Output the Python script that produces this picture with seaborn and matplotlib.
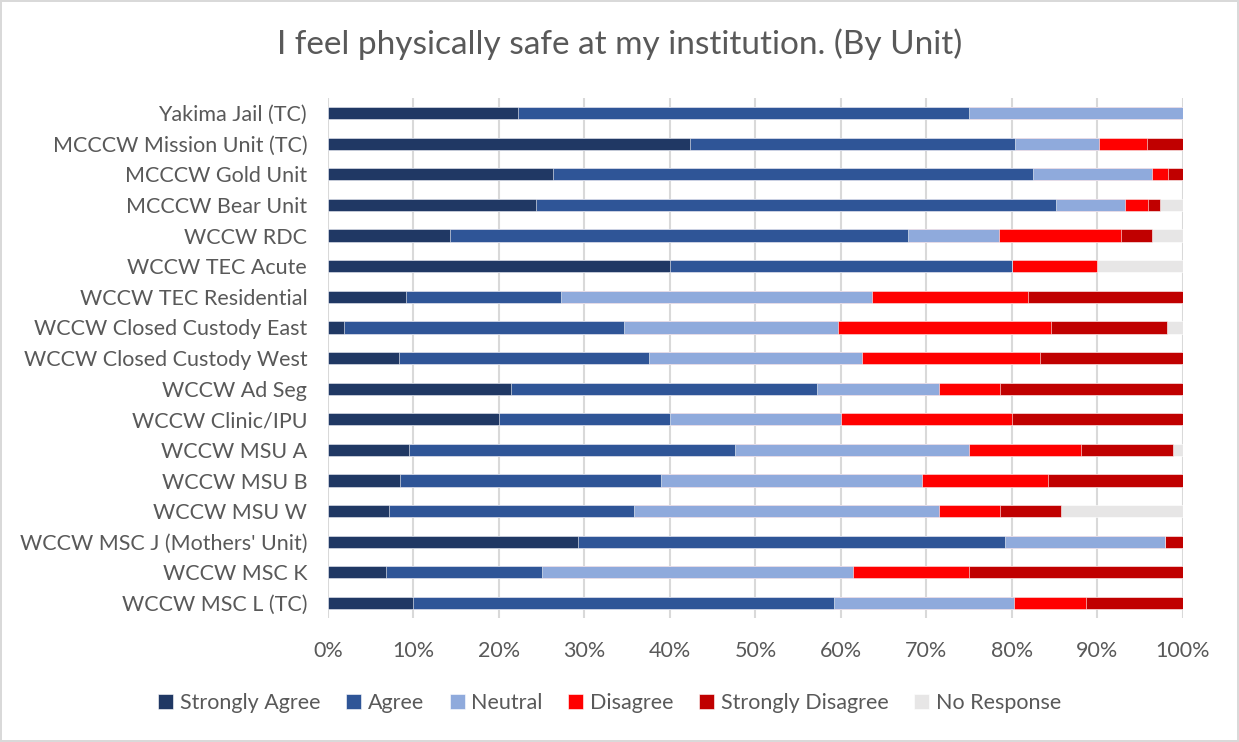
import numpy as np
import pandas as pd
import matplotlib
matplotlib.use("Agg")
import matplotlib.pyplot as plt
import seaborn as sns
from matplotlib.ticker import FuncFormatter

# datos (porcentaje por unidad, de arriba a abajo)
units = ["Yakima Jail (TC)", "MCCCW Mission Unit (TC)", "MCCCW Gold Unit",
         "MCCCW Bear Unit", "WCCW RDC", "WCCW TEC Acute", "WCCW TEC Residential",
         "WCCW Closed Custody East", "WCCW Closed Custody West", "WCCW Ad Seg",
         "WCCW Clinic/IPU", "WCCW MSU A", "WCCW MSU B", "WCCW MSU W",
         "WCCW MSC J (Mothers' Unit)", "WCCW MSC K", "WCCW MSC L (TC)"]

strongly_agree = [22.2, 42.3, 26.3, 24.3, 14.3, 40.0, 9.1, 1.9, 8.3, 21.4, 20.0, 9.5, 8.4, 7.1, 29.2, 6.8, 9.9]
agree = [52.8, 38.0, 56.1, 60.8, 53.6, 40.0, 18.2, 32.7, 29.2, 35.7, 20.0, 38.1, 30.5, 28.6, 50.0, 18.2, 49.3]
neutral = [25.0, 9.9, 14.0, 8.1, 10.7, 0.0, 36.4, 25.0, 25.0, 14.3, 20.0, 27.4, 30.5, 35.7, 18.7, 36.4, 21.1]
disagree = [0.0, 5.6, 1.8, 2.7, 14.3, 10.0, 18.2, 25.0, 20.8, 7.1, 20.0, 13.1, 14.7, 7.1, 0.0, 13.6, 8.5]
strongly_disagree = [0.0, 4.2, 1.8, 1.4, 3.6, 0.0, 18.2, 13.5, 16.7, 21.4, 20.0, 10.7, 15.8, 7.1, 2.1, 25.0, 11.3]
no_response = [0.0, 0.0, 0.0, 2.7, 3.6, 10.0, 0.0, 1.9, 0.0, 0.0, 0.0, 1.2, 0.0, 14.3, 0.0, 0.0, 0.0]

responses = ["Strongly Agree", "Agree", "Neutral", "Disagree", "Strongly Disagree", "No Response"]
colors = ["#203864", "#2F5597", "#8FAADC", "#FF0000", "#C00000", "#E7E6E6"]

df = pd.DataFrame({"Strongly Agree": strongly_agree, "Agree": agree, "Neutral": neutral,
                   "Disagree": disagree, "Strongly Disagree": strongly_disagree,
                   "No Response": no_response}, index=units)
df = df.div(df.sum(axis=1), axis=0) * 100
cum = df.cumsum(axis=1)

sns.set_style("white")
plt.rcParams["font.family"] = ["Lato", "DejaVu Sans"]
txt = "#595959"

fig = plt.figure(figsize=(12.39, 7.42), dpi=100)
fig.patch.set_edgecolor("#D9D9D9")
fig.patch.set_linewidth(1.5)
ax = fig.add_axes([0.2647, 0.1667, 0.6901, 0.7016])

# barras apiladas: se dibuja el acumulado de mayor a menor
for resp, col in reversed(list(zip(responses, colors))):
    d = pd.DataFrame({"unit": units, "value": cum[resp].values})
    sns.barplot(data=d, x="value", y="unit", color=col, orient="h", width=0.4,
                saturation=1, edgecolor="white", linewidth=0.4, label=resp,
                ax=ax, zorder=3)

h, l = ax.get_legend_handles_labels()
if ax.get_legend() is not None:
    ax.get_legend().remove()

ax.set_xlim(0, 100)
ax.set_xticks(np.arange(0, 101, 10))
ax.xaxis.set_major_formatter(FuncFormatter(lambda v, p: f"{v:.0f}%"))
ax.grid(axis="x", color="#D9D9D9", linewidth=1.5, zorder=0)
ax.set_axisbelow(True)
for s in ax.spines.values():
    s.set_visible(False)
ax.set_xlabel("")
ax.set_ylabel("")
ax.tick_params(axis="both", length=0, colors=txt, labelsize=15.5)
ax.tick_params(axis="x", pad=16)
ax.tick_params(axis="y", pad=15)

fig.suptitle("I feel physically safe at my institution. (By Unit)", y=0.962,
             fontsize=24, color=txt)

order = [l.index(r) for r in responses]
leg = fig.legend([h[i] for i in order], responses, loc="center", ncol=6,
                 bbox_to_anchor=(0.492, 0.053), frameon=False, fontsize=15.5,
                 handlelength=0.7, handleheight=0.7, handletextpad=0.3,
                 columnspacing=1.2)
for t in leg.get_texts():
    t.set_color(txt)

fig.savefig("out.png", dpi=100, edgecolor=fig.get_edgecolor())
